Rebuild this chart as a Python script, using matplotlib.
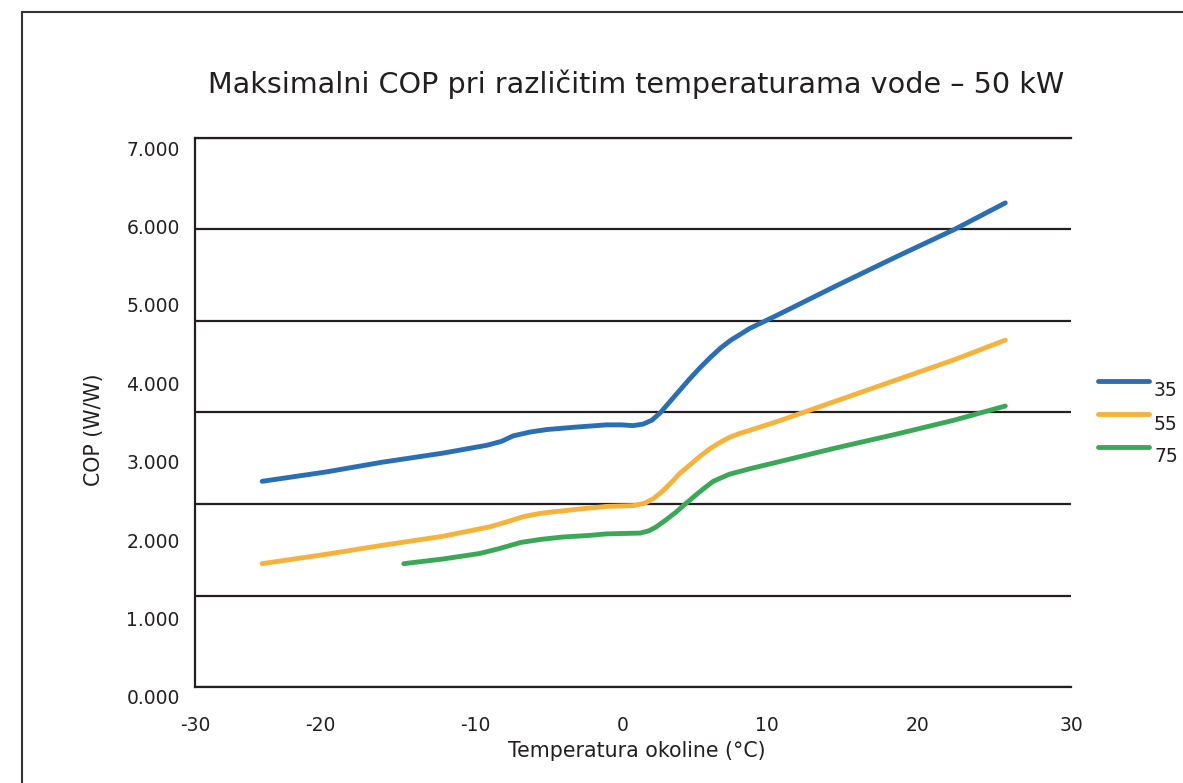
import numpy as np
import matplotlib.pyplot as plt
from matplotlib.lines import Line2D

plt.rcParams['font.family'] = ['DejaVu Sans']

# Podaci (očitano s grafa)
x_35 = [-25.4, -21.0, -17.3, -13.0, -10.0, -9.0, -8.2, -7.0, -5.9, -4.0, -1.8, -0.8, 0.0, 0.7, 1.3, 1.9, 2.5, 3.2, 3.9, 4.6, 5.3, 6.0, 6.7, 7.4, 8.0, 10.0, 14.0, 18.0, 22.0, 25.5]
y_35 = [2.75, 2.87, 2.99, 3.11, 3.21, 3.26, 3.33, 3.38, 3.41, 3.44, 3.47, 3.47, 3.46, 3.48, 3.53, 3.63, 3.76, 3.91, 4.06, 4.20, 4.33, 4.45, 4.55, 4.63, 4.70, 4.88, 5.25, 5.61, 5.96, 6.30]
x_55 = [-25.4, -21.0, -17.3, -13.0, -9.8, -8.7, -7.5, -6.4, -5.5, -3.5, -1.8, 0.0, 0.8, 1.4, 2.0, 2.6, 3.2, 3.9, 4.6, 5.3, 6.0, 6.6, 7.3, 8.0, 10.0, 14.0, 18.0, 22.0, 25.5]
y_55 = [1.70, 1.82, 1.93, 2.05, 2.17, 2.23, 2.30, 2.34, 2.36, 2.40, 2.43, 2.44, 2.47, 2.53, 2.62, 2.73, 2.85, 2.96, 3.07, 3.17, 3.25, 3.31, 3.36, 3.40, 3.52, 3.78, 4.04, 4.30, 4.55]
x_75 = [-15.7, -13.0, -10.5, -9.2, -7.7, -6.3, -4.8, -3.0, -1.8, 0.5, 1.1, 1.6, 2.2, 2.9, 3.7, 4.4, 5.0, 5.5, 6.1, 6.6, 7.2, 8.0, 10.0, 14.0, 18.0, 22.0, 25.5]
y_75 = [1.70, 1.76, 1.83, 1.89, 1.97, 2.01, 2.04, 2.06, 2.08, 2.09, 2.12, 2.17, 2.25, 2.35, 2.48, 2.59, 2.68, 2.75, 2.80, 2.84, 2.87, 2.91, 3.00, 3.18, 3.35, 3.53, 3.71]

serije = ['35', '55', '75']
boje = ['#2a6fb5', '#f6b33c', '#3aa857']

x_oznake = ['-30', '-20', '-10', '0', '10', '20', '30']
x_pozicije = [-30, -21.4, -10.8, -0.7, 9.2, 19.5, 30]
y_oznake = ['0.000', '1.000', '2.000', '3.000', '4.000', '5.000', '6.000', '7.000']

tekst = '#231f20'
fig = plt.figure(figsize=(11.83, 7.83), dpi=100)

# okvir slike
fig.add_artist(Line2D([22/1183, 22/1183], [0, 1 - 12/783], color='#333333', lw=1.5))
fig.add_artist(Line2D([22/1183, 1182/1183], [1 - 12/783, 1 - 12/783], color='#333333', lw=1.5))

# glavna os (podaci + rešetka)
ax = fig.add_axes([195/1183, (783 - 687)/783, 876/1183, 549/783])
y_lo = 10 / 78.43
y_hi = y_lo + 7
ax.set_xlim(-30, 30)
ax.set_ylim(y_lo, y_hi)

for xs, ys, lab, c in zip([x_35, x_55, x_75], [y_35, y_55, y_75], serije, boje):
    ax.plot(xs, ys, color=c, lw=3.5, label=lab, solid_capstyle='round', solid_joinstyle='round')

ax.set_yticks(np.linspace(y_lo, y_hi, 7))
ax.set_yticklabels([])
ax.grid(axis='y', color=tekst, lw=1.6)
ax.tick_params(axis='y', length=0)
ax.set_xticks(x_pozicije)
ax.set_xticklabels(x_oznake, fontsize=13.5, color=tekst)
ax.tick_params(axis='x', length=0, pad=21)
ax.spines['right'].set_visible(False)
for s in ['left', 'bottom', 'top']:
    ax.spines[s].set_color(tekst)
    ax.spines[s].set_linewidth(1.6)
ax.set_axisbelow(True)

# os samo za oznake na y osi (pomaknute kao u originalu)
ax_lab = fig.add_axes([195/1183, (783 - 697)/783, 0.001, 549/783])
ax_lab.set_ylim(0, 7)
ax_lab.set_yticks(range(8))
ax_lab.set_yticklabels(y_oznake, fontsize=13.5, color=tekst)
ax_lab.tick_params(axis='y', length=0, pad=11)
ax_lab.set_xticks([])
for s in ax_lab.spines.values():
    s.set_visible(False)
ax_lab.patch.set_visible(False)

fig.text(94/1183, 1 - 430/783, 'COP (W/W)', rotation=90, ha='center', va='center', fontsize=14.8, color=tekst)
fig.text(637/1183, 1 - 751/783, 'Temperatura okoline (°C)', ha='center', va='center', fontsize=14.8, color=tekst)
fig.text(636/1183, 1 - 84/783, 'Maksimalni COP pri različitim temperaturama vode – 50 kW', ha='center', va='center', fontsize=20.6, color=tekst)

# legenda desno (tekst malo ispod linije, kao u originalu)
for i, (lab, c) in enumerate(zip(serije, boje)):
    y_lin = 1 - (381 + 33 * i) / 783
    fig.add_artist(Line2D([1098/1183, 1149/1183], [y_lin, y_lin], color=c, lw=3.5, solid_capstyle='round'))
    fig.text(1154/1183, y_lin - 10/783, lab, ha='left', va='center', fontsize=13.5, color=tekst)

fig.savefig('out.png', dpi=100)
